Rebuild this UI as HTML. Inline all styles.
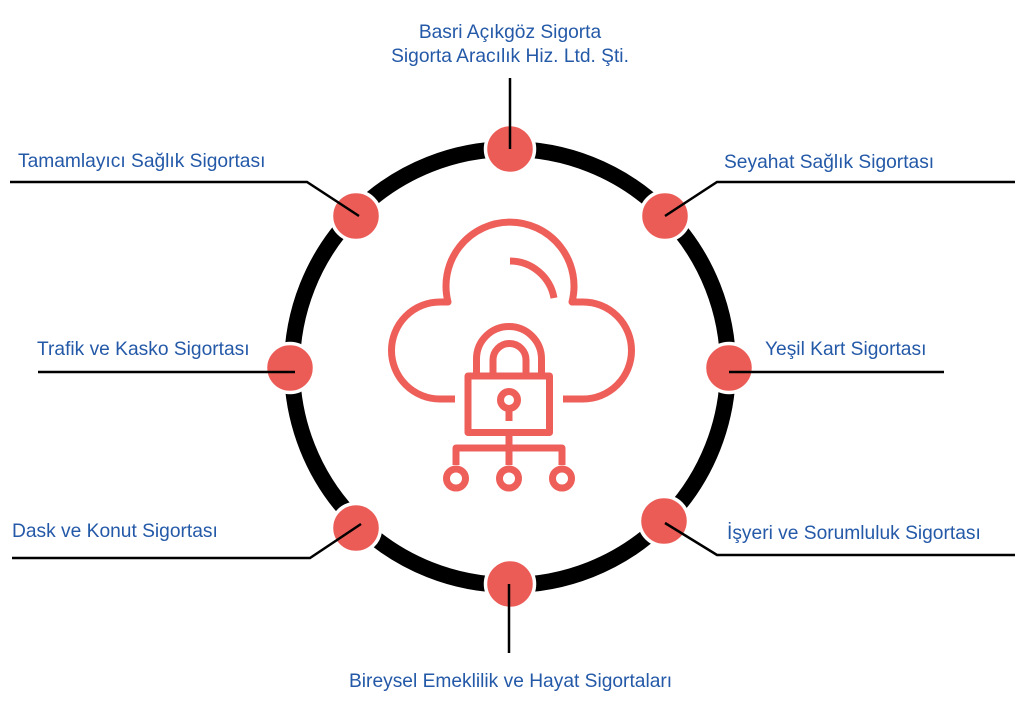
<!DOCTYPE html>
<html>
<head>
<meta charset="utf-8">
<style>
html,body{margin:0;padding:0;background:#fff;}
svg{display:block;}
text{font-family:"Liberation Sans",Arial,sans-serif;font-size:19.2px;fill:#2459a8;}
</style>
</head>
<body>
<svg width="1024" height="713" viewBox="0 0 1024 713" xmlns="http://www.w3.org/2000/svg">
  <!-- ring -->
  <circle cx="510" cy="367" r="218" fill="none" stroke="#000" stroke-width="16"/>

  <!-- cloud icon -->
  <g fill="none" stroke="#ee5f5a" stroke-width="7" stroke-linecap="butt" stroke-linejoin="round">
    <path d="M455,399 H440 A48.5,48.5 0 0 1 440,302 H448 A64,64 0 1 1 572,302 H583 A48.5,48.5 0 0 1 583,399 H563"/>
    <path d="M510,261 A45,45 0 0 1 554,298"/>
    <!-- shackle -->
    <path d="M476.5,376 V359 A32.5,32.5 0 0 1 541.5,359 V376"/>
    <path d="M493,376 V360 A16.5,16.5 0 0 1 526,360 V376"/>
    <!-- body -->
    <rect x="468" y="376" width="81.5" height="56.5"/>
    <!-- keyhole -->
    <circle cx="509" cy="400" r="8.5"/>
    <path d="M509,408 V421"/>
    <!-- network -->
    <path d="M509,436 V465"/>
    <path d="M456,465 V448 H562 V465"/>
    <circle cx="456" cy="478.5" r="9.5"/>
    <circle cx="509" cy="478.5" r="9.5"/>
    <circle cx="562" cy="478.5" r="9.5"/>
  </g>

  <!-- nodes -->
  <g fill="#ec5c57" stroke="#fff" stroke-width="3.5">
    <circle cx="510" cy="149" r="24.5"/>
    <circle cx="356" cy="216" r="24.5"/>
    <circle cx="665" cy="216" r="24.5"/>
    <circle cx="290" cy="368" r="24.5"/>
    <circle cx="729" cy="368" r="24.5"/>
    <circle cx="356" cy="528" r="24.5"/>
    <circle cx="664" cy="521" r="24.5"/>
    <circle cx="510" cy="584" r="24.5"/>
  </g>

  <!-- connectors -->
  <g fill="none" stroke="#000" stroke-width="2.5" stroke-linejoin="miter">
    <path d="M510,78 V149"/>
    <path d="M10,182 H307 L359,216"/>
    <path d="M1015,182 H717 L665,216"/>
    <path d="M38,372 H295"/>
    <path d="M729,372 H944"/>
    <path d="M12,558 H310 L361,524"/>
    <path d="M1015,555 H717 L665,523"/>
    <path d="M509,584 V653"/>
  </g>

  <!-- labels -->
  <text x="510" y="38" text-anchor="middle">Basri Açıkgöz Sigorta</text>
  <text x="510" y="62" text-anchor="middle">Sigorta Aracılık Hiz. Ltd. Şti.</text>
  <text x="18" y="167">Tamamlayıcı Sağlık Sigortası</text>
  <text x="724" y="168">Seyahat Sağlık Sigortası</text>
  <text x="37" y="355">Trafik ve Kasko Sigortası</text>
  <text x="765" y="355">Yeşil Kart Sigortası</text>
  <text x="12" y="537">Dask ve Konut Sigortası</text>
  <text x="727" y="539">İşyeri ve Sorumluluk Sigortası</text>
  <text x="349" y="687">Bireysel Emeklilik ve Hayat Sigortaları</text>
</svg>
</body>
</html>
